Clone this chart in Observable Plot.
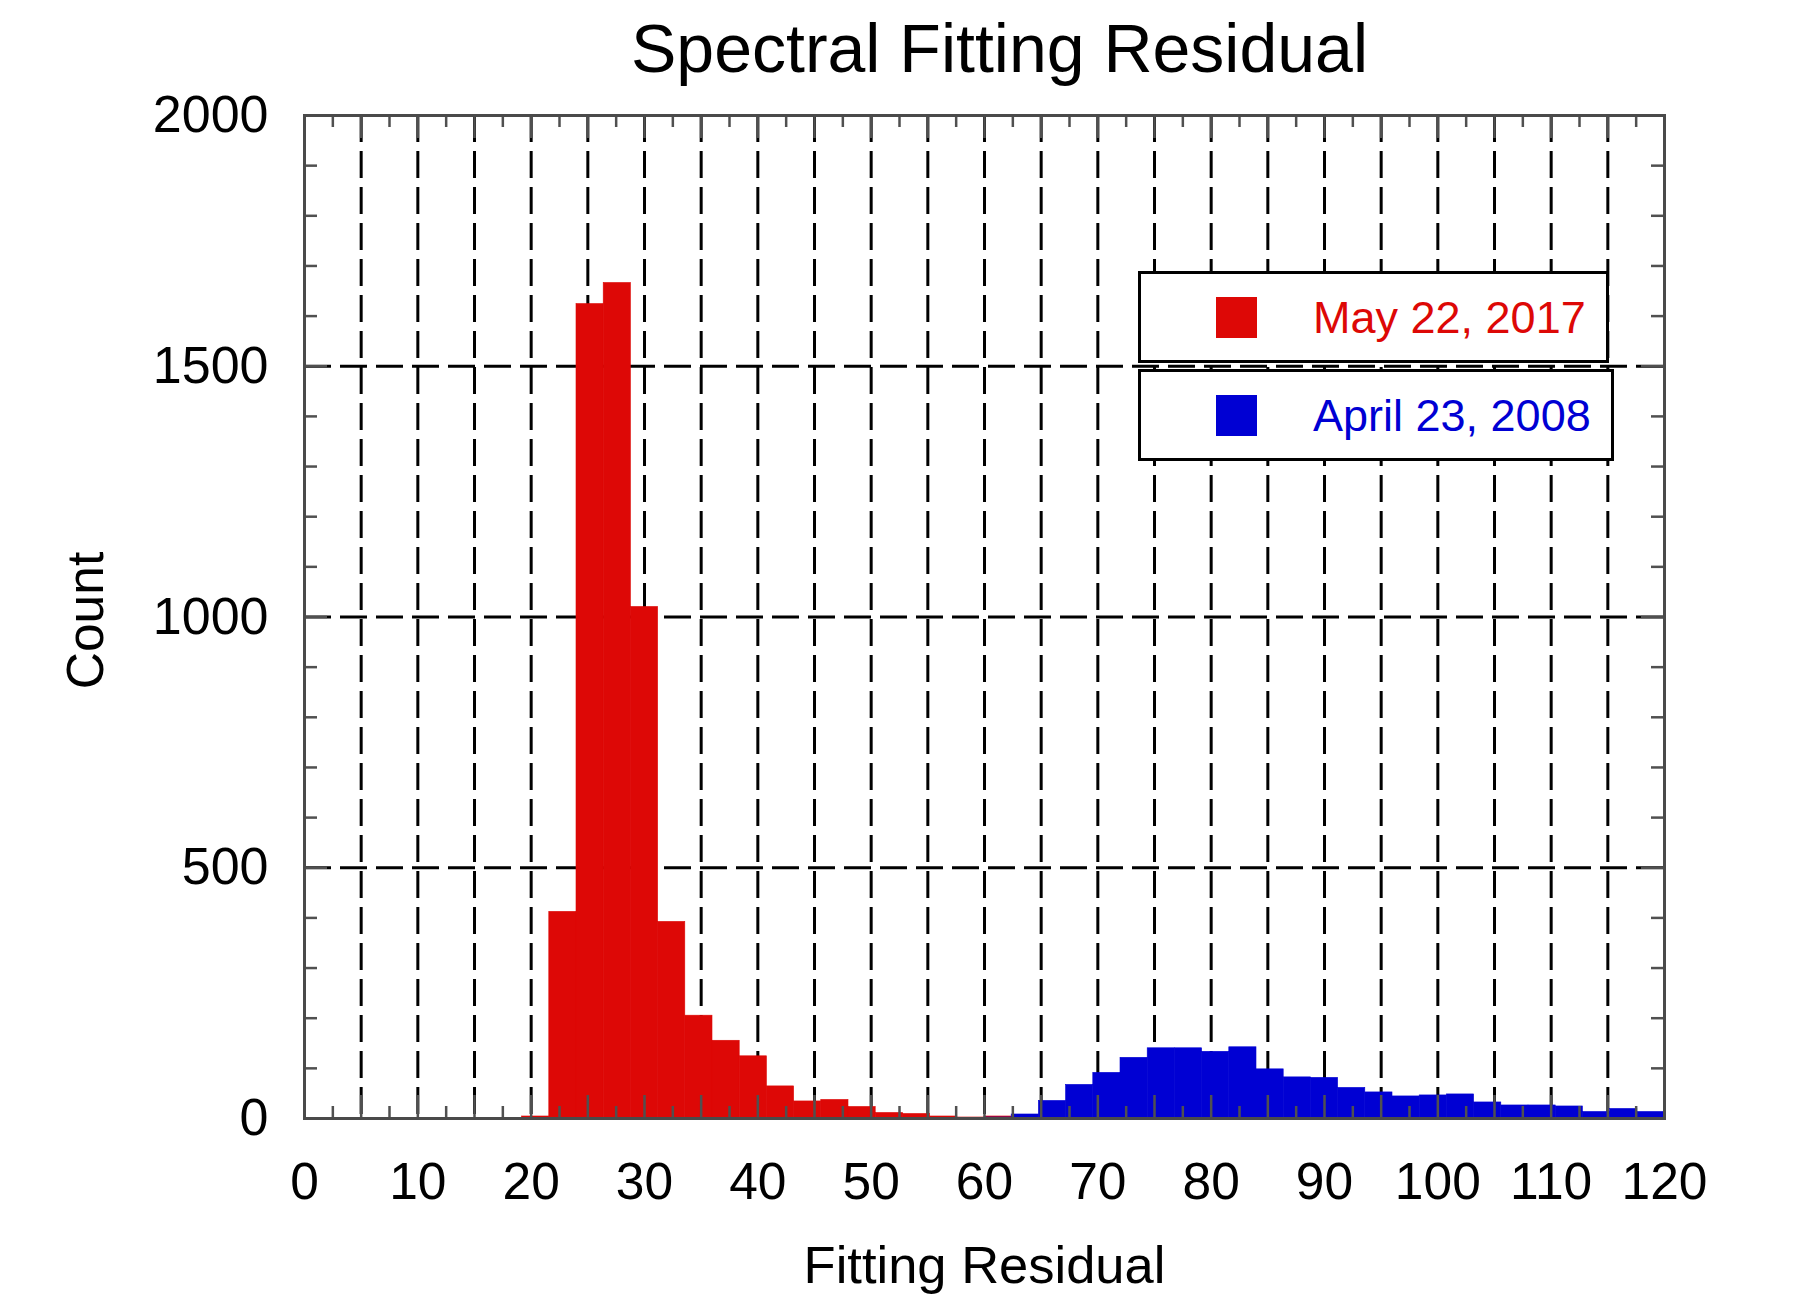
<!DOCTYPE html>
<html>
<head>
<meta charset="utf-8">
<script src="https://cdn.jsdelivr.net/npm/d3@7"></script>
<script src="https://cdn.jsdelivr.net/npm/@observablehq/plot@0.6"></script>
<style>
  html, body { margin: 0; padding: 0; background: #fff; }
  #chart { position: relative; width: 1797px; height: 1300px; font-family: "Liberation Sans", Arial, sans-serif; }
  #chart svg { display: block; }
  .lg-box { position: absolute; box-sizing: border-box; border: 3px solid #000; background: #fff; }
  .lg-sw { position: absolute; width: 41px; height: 41px; }
  .lg-tx { position: absolute; font-size: 45px; line-height: 1; white-space: nowrap; }
</style>
</head>
<body>
<div id="chart"></div>
<script>
// ---- data ----
const titleText = "Spectral Fitting Residual";
const xLabelText = "Fitting Residual";
const yLabelText = "Count";
const seriesNames = ["May 22, 2017", "April 23, 2008"];
const seriesColors = ["#DD0806", "#0000D3"];
const binWidth = 2.4;

const redBinStart = [19.2, 21.6, 24.0, 26.4, 28.8, 31.2, 33.6, 36.0, 38.4, 40.8, 43.2, 45.6, 48.0, 50.4, 52.8, 55.2, 57.6, 60.0, 62.4];
const redCount    = [4,    412,  1624, 1666, 1020, 392,  205,  155,  124,  64,   34,   37,   23,   11,   9,    4,    2,    4,    1];

const blueBinStart = [60.0, 62.4, 64.8, 67.2, 69.6, 72.0, 74.4, 76.8, 79.2, 81.6, 84.0, 86.4, 88.8, 91.2, 93.6, 96.0, 98.4, 100.8, 103.2, 105.6, 108.0, 110.4, 112.8, 115.2, 117.6];
const blueCount    = [2,    8,    35,   67,   91,   121,  140,  140,  133,  142,  98,   82,   81,   61,   52,   44,   46,   48,    32,    26,    26,    24,    13,    19,    13];

const xTickLabels = [0, 10, 20, 30, 40, 50, 60, 70, 80, 90, 100, 110, 120];
const yTickLabels = [0, 500, 1000, 1500, 2000];
const xGrid = [5, 10, 15, 20, 25, 30, 35, 40, 45, 50, 55, 60, 65, 70, 75, 80, 85, 90, 95, 100, 105, 110, 115];
const yGrid = [500, 1000, 1500];
const xMinorTicks = [2.5, 7.5, 12.5, 17.5, 22.5, 27.5, 32.5, 37.5, 42.5, 47.5, 52.5, 57.5, 62.5, 67.5, 72.5, 77.5, 82.5, 87.5, 92.5, 97.5, 102.5, 107.5, 112.5, 117.5];
const yMinorTicks = [100, 200, 300, 400, 600, 700, 800, 900, 1100, 1200, 1300, 1400, 1600, 1700, 1800, 1900];

// ---- build table ----
const bars = [
  ...redBinStart.map((x, i) => ({series: seriesNames[0], x1: x, x2: x + binWidth, y: redCount[i]})),
  ...blueBinStart.map((x, i) => ({series: seriesNames[1], x1: x, x2: x + binWidth, y: blueCount[i]}))
];

const W = 1797, H = 1300, mL = 304, mR = 133, mT = 115, mB = 182;
const plotW = W - mL - mR, plotH = H - mT - mB;
const tickColor = "#505050";
const gridDash = "27,9";

const chart = Plot.plot({
  width: W, height: H,
  marginLeft: mL, marginRight: mR, marginTop: mT, marginBottom: mB,
  style: {fontFamily: '"Liberation Sans", Arial, sans-serif', color: "#000", background: "#fff"},
  x: {domain: [0, 120]},
  y: {domain: [0, 2000]},
  color: {domain: seriesNames, range: seriesColors},
  marks: [
    Plot.ruleX(xGrid, {x: d => d, stroke: "#000", strokeWidth: 3, strokeDasharray: gridDash}),
    Plot.ruleY(yGrid, {y: d => d, stroke: "#000", strokeWidth: 3, strokeDasharray: gridDash}),
    Plot.rectY(bars.filter(d => d.series === seriesNames[0]), {x1: "x1", x2: "x2", y: "y", fill: "series", stroke: "series", strokeWidth: 0.6, inset: 0}),
    Plot.rectY(bars.filter(d => d.series === seriesNames[1]), {x1: "x1", x2: "x2", y: "y", fill: "series", stroke: "series", strokeWidth: 0.6, inset: 0}),
    // inward ticks on all four sides
    Plot.tickX(xMinorTicks, {x: d => d, insetTop: plotH - 12, stroke: tickColor, strokeWidth: 2.5}),
    Plot.tickX(xMinorTicks, {x: d => d, insetBottom: plotH - 12, stroke: tickColor, strokeWidth: 2.5}),
    Plot.tickX(xGrid, {x: d => d, insetTop: plotH - 23, stroke: tickColor, strokeWidth: 2.5}),
    Plot.tickX(xGrid, {x: d => d, insetBottom: plotH - 23, stroke: tickColor, strokeWidth: 2.5}),
    Plot.tickY(yMinorTicks, {y: d => d, insetRight: plotW - 13, stroke: tickColor, strokeWidth: 2.5}),
    Plot.tickY(yMinorTicks, {y: d => d, insetLeft: plotW - 13, stroke: tickColor, strokeWidth: 2.5}),
    Plot.tickY(yGrid, {y: d => d, insetRight: plotW - 23, stroke: tickColor, strokeWidth: 2.5}),
    Plot.tickY(yGrid, {y: d => d, insetLeft: plotW - 23, stroke: tickColor, strokeWidth: 2.5}),
    Plot.frame({stroke: "#4a4a4a", strokeWidth: 3}),
    Plot.axisX({ticks: xTickLabels, tickSize: 0, tickPadding: 44, fontSize: 51.5, label: null, tickFormat: d3.format("d")}),
    Plot.axisY({ticks: yTickLabels, tickSize: 0, tickPadding: 36, fontSize: 52, label: null, tickFormat: d3.format("d")}),
    Plot.text([xLabelText], {text: d => d, frameAnchor: "bottom", dy: 148, fontSize: 52.5, lineAnchor: "middle"}),
    Plot.text([yLabelText], {text: d => d, frameAnchor: "left", rotate: -90, dx: -218, dy: 3.5, fontSize: 51.5, lineAnchor: "middle", textAnchor: "middle"}),
    Plot.text([titleText], {text: d => d, frameAnchor: "top", dx: 15, dy: -65, fontSize: 68, lineAnchor: "middle"})
  ]
});

const root = document.getElementById("chart");
root.appendChild(chart);

// ---- legend (HTML overlay) ----
const legendBoxes = [
  {left: 1138, top: 271, width: 471, height: 92},
  {left: 1138, top: 369, width: 476, height: 92}
];
seriesNames.forEach((name, i) => {
  const b = legendBoxes[i];
  const box = document.createElement("div");
  box.className = "lg-box";
  Object.assign(box.style, {left: b.left + "px", top: b.top + "px", width: b.width + "px", height: b.height + "px"});
  const sw = document.createElement("div");
  sw.className = "lg-sw";
  Object.assign(sw.style, {left: "75px", top: "23px", background: seriesColors[i]});
  const tx = document.createElement("div");
  tx.className = "lg-tx";
  tx.textContent = name;
  Object.assign(tx.style, {left: "172px", top: "21px", color: seriesColors[i]});
  box.appendChild(sw);
  box.appendChild(tx);
  root.appendChild(box);
});
</script>
</body>
</html>
